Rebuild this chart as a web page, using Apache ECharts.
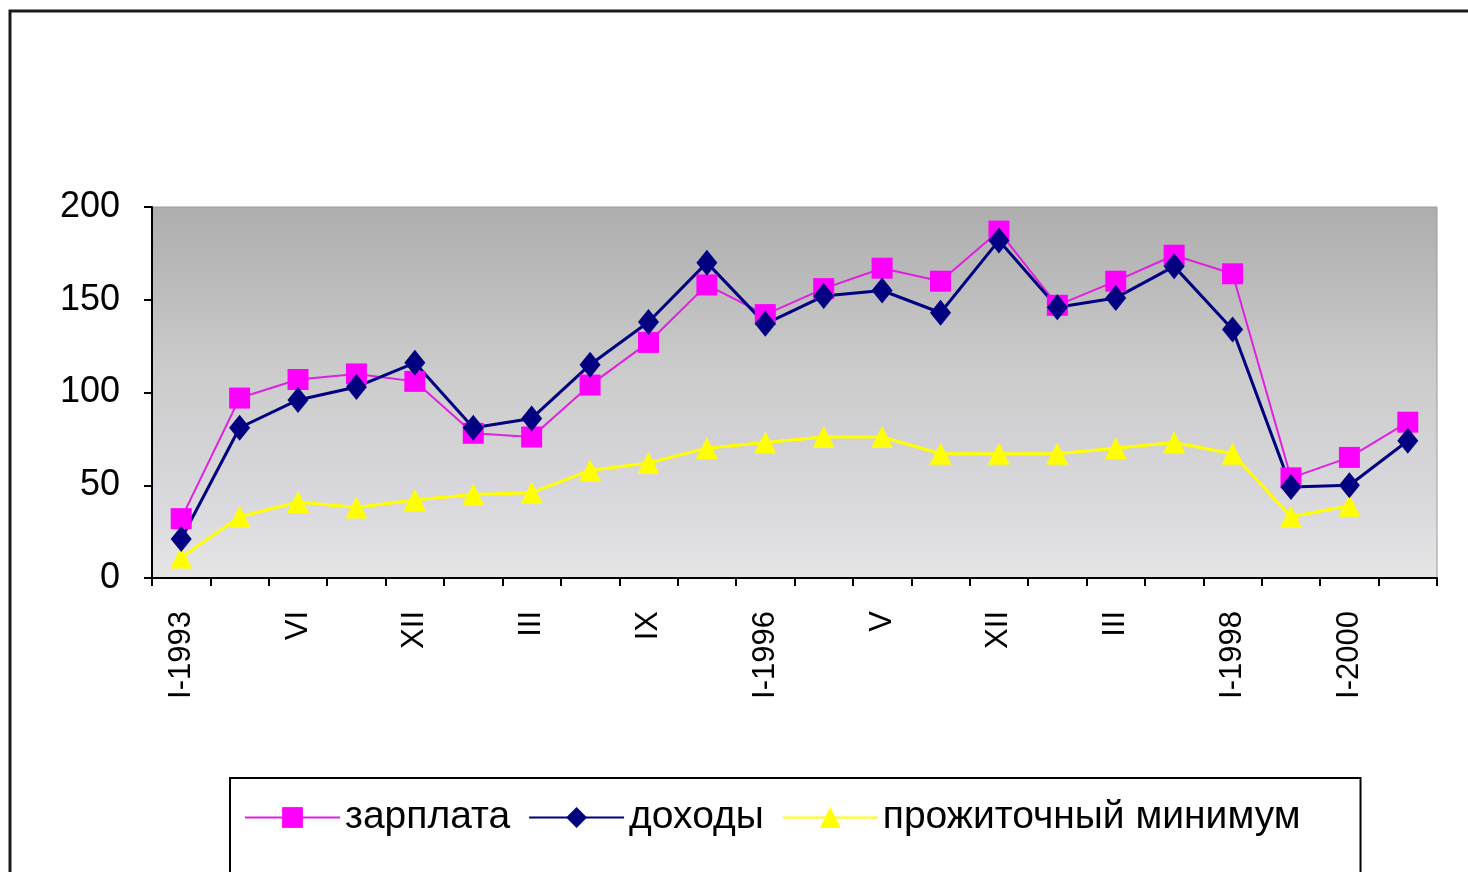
<!DOCTYPE html>
<html>
<head>
<meta charset="utf-8">
<script src="https://cdn.jsdelivr.net/npm/echarts@6/dist/echarts.min.js"></script>
<style>
html,body{margin:0;padding:0;background:#fff;}
#chart{width:1468px;height:872px;}
</style>
</head>
<body>
<div id="chart"></div>
<script>
var categories = ['I-1993','','VI','','XII','','III','','IX','','I-1996','','V','','XII','','III','','I-1998','','I-2000',''];
var zarplata = [32, 97, 107, 110, 106, 78, 76, 104, 127, 158, 142, 156, 167, 160, 187, 147, 160, 174, 164, 54, 65, 84];
var dohody = [21, 81, 96, 103, 116, 81, 86, 115, 138, 170, 137, 152, 155, 143, 182, 146, 151, 168, 134, 49, 50, 74];
var minimum = [11, 33, 41, 38, 42, 45, 46, 58, 62, 70, 73, 76, 76, 67, 67, 67, 70, 73, 67, 33, 39, null];
var yTicks = {min: 0, max: 200, interval: 50};

var chart = echarts.init(document.getElementById('chart'));
chart.setOption({
  animation: false,
  backgroundColor: '#fff',
  graphic: [{
    type: 'rect', z: -10, silent: true,
    shape: {x: 10, y: 11, width: 1500, height: 900},
    style: {fill: 'none', stroke: '#1a1a1a', lineWidth: 3}
  }],
  grid: {
    left: 152, right: 31, top: 207, bottom: 294,
    show: true,
    borderColor: '#9a9a9a', borderWidth: 1,
    backgroundColor: {
      type: 'linear', x: 0, y: 0, x2: 0, y2: 1,
      colorStops: [
        {offset: 0, color: '#adadad'},
        {offset: 0.45, color: '#cccccc'},
        {offset: 0.8, color: '#d9d9de'},
        {offset: 1, color: '#e6e6e6'}
      ]
    }
  },
  legend: {
    left: 230, top: 778,
    padding: [20, 60, 60, 14],
    borderColor: '#000', borderWidth: 2,
    itemWidth: 95, itemHeight: 26, itemGap: 18,
    textStyle: {fontSize: 39, color: '#000', fontFamily: 'Liberation Sans'},
    data: ['зарплата', 'доходы', 'прожиточный минимум']
  },
  xAxis: {
    type: 'category',
    data: categories,
    boundaryGap: true,
    axisLine: {lineStyle: {color: '#000', width: 2}},
    axisTick: {show: true, interval: 0, length: 8, lineStyle: {color: '#000', width: 2}},
    axisLabel: {interval: 0, rotate: 90, fontSize: 31, margin: 33, color: '#000', fontFamily: 'Liberation Sans'},
    splitLine: {show: false}
  },
  yAxis: {
    type: 'value',
    min: yTicks.min, max: yTicks.max, interval: yTicks.interval,
    axisLine: {show: true, lineStyle: {color: '#000', width: 2}},
    axisTick: {show: true, length: 8, lineStyle: {color: '#000', width: 2}},
    axisLabel: {fontSize: 36, margin: 32, color: '#000', fontFamily: 'Liberation Sans'},
    splitLine: {show: false}
  },
  series: [
    {
      name: 'зарплата', type: 'line', data: zarplata,
      symbol: 'rect', symbolSize: 21,
      itemStyle: {color: '#ff00ff'},
      lineStyle: {color: '#e020e0', width: 2}
    },
    {
      name: 'доходы', type: 'line', data: dohody,
      symbol: 'diamond', symbolSize: [21, 26],
      itemStyle: {color: '#000080'},
      lineStyle: {color: '#000080', width: 3}
    },
    {
      name: 'прожиточный минимум', type: 'line', data: minimum,
      symbol: 'triangle', symbolSize: 22,
      itemStyle: {color: '#ffff00'},
      lineStyle: {color: '#ffff00', width: 3},
      z: 1
    }
  ]
});
</script>
</body>
</html>
